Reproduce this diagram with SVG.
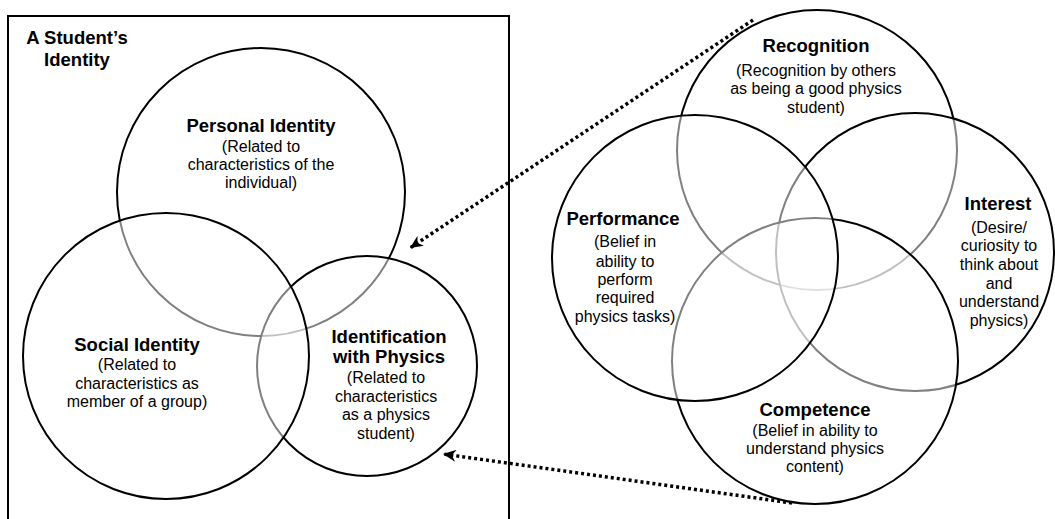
<svg xmlns="http://www.w3.org/2000/svg" width="1055" height="519" viewBox="0 0 1055 519">
<defs>
<style>
.c{fill:#fff;fill-opacity:0.5;stroke:#000;stroke-width:2}
.h{font-family:"Liberation Sans",Arial,sans-serif;font-weight:bold;font-size:18.5px;text-anchor:middle;fill:#000}
.b{font-family:"Liberation Sans",Arial,sans-serif;font-size:16px;text-anchor:middle;fill:#000}
.a{fill:none;stroke:#000;stroke-width:3.5;stroke-dasharray:3 3}
</style>
<marker id="ah" markerUnits="userSpaceOnUse" markerWidth="14" markerHeight="12" refX="13" refY="6" orient="auto">
<path d="M0,0 L13,6 L0,12 L4,6 Z" fill="#000"/>
</marker>
</defs>
<rect id="box" x="8" y="16" width="501" height="520" fill="#fff" stroke="#000" stroke-width="2"/>
<g id="student-title">
<text class="h" x="77" y="44">A Student’s</text>
<text class="h" x="77" y="66">Identity</text>
</g>
<g id="personal-identity">
<circle class="c" cx="261" cy="192" r="144"/>
<text class="h" x="261" y="132">Personal Identity</text>
<text class="b" x="261" y="152">(Related to</text>
<text class="b" x="261" y="170">characteristics of the</text>
<text class="b" x="261" y="188">individual)</text>
</g>
<g id="identification-physics">
<circle class="c" cx="367" cy="366" r="110"/>
<text class="h" x="389" y="343">Identification</text>
<text class="h" x="389" y="363">with Physics</text>
<text class="b" x="386" y="383">(Related to</text>
<text class="b" x="386" y="402">characteristics</text>
<text class="b" x="386" y="420">as a physics</text>
<text class="b" x="386" y="439">student)</text>
</g>
<g id="social-identity">
<circle class="c" cx="166" cy="356" r="143"/>
<text class="h" x="137" y="351">Social Identity</text>
<text class="b" x="137" y="370">(Related to</text>
<text class="b" x="137" y="389">characteristics as</text>
<text class="b" x="137" y="407">member of a group)</text>
</g>
<g id="recognition">
<circle class="c" cx="817" cy="150" r="140"/>
<text class="h" x="816" y="52">Recognition</text>
<text class="b" x="816" y="76">(Recognition by others</text>
<text class="b" x="816" y="94">as being a good physics</text>
<text class="b" x="816" y="113">student)</text>
</g>
<g id="interest">
<circle class="c" cx="915" cy="252" r="139"/>
<text class="h" x="998" y="210">Interest</text>
<text class="b" x="999" y="233">(Desire/</text>
<text class="b" x="999" y="251">curiosity to</text>
<text class="b" x="999" y="270">think about</text>
<text class="b" x="999" y="289">and</text>
<text class="b" x="999" y="307">understand</text>
<text class="b" x="999" y="326">physics)</text>
</g>
<g id="competence">
<circle class="c" cx="815" cy="361" r="143"/>
<text class="h" x="815" y="416">Competence</text>
<text class="b" x="815" y="436">(Belief in ability to</text>
<text class="b" x="815" y="454">understand physics</text>
<text class="b" x="815" y="472">content)</text>
</g>
<g id="performance">
<circle class="c" cx="695" cy="258" r="143"/>
<text class="h" x="623" y="225">Performance</text>
<text class="b" x="625" y="247">(Belief in</text>
<text class="b" x="625" y="267">ability to</text>
<text class="b" x="625" y="285">perform</text>
<text class="b" x="625" y="303">required</text>
<text class="b" x="625" y="322">physics tasks)</text>
</g>
<g id="connectors">
<path class="a" d="M753,20 L410,248" marker-end="url(#ah)"/>
<path class="a" d="M792,503 L443,454" marker-end="url(#ah)"/>
</g>
</svg>
